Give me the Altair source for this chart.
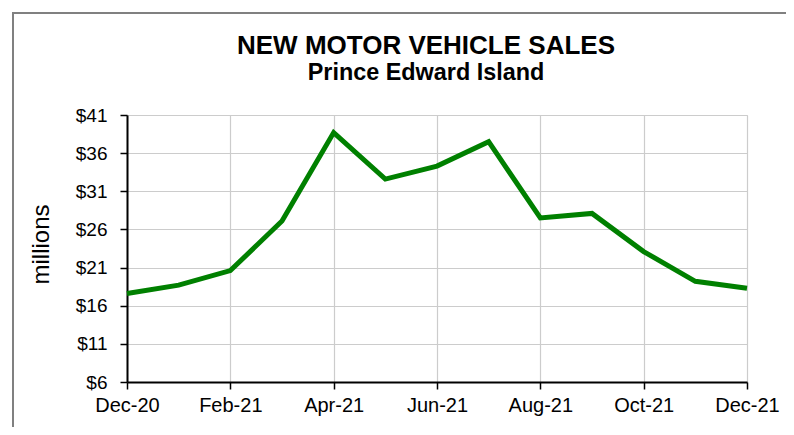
import altair as alt
import pandas as pd

title_text = "NEW MOTOR VEHICLE SALES"
subtitle_text = "Prince Edward Island"
months = ["Dec-20", "Jan-21", "Feb-21", "Mar-21", "Apr-21", "May-21", "Jun-21",
          "Jul-21", "Aug-21", "Sep-21", "Oct-21", "Nov-21", "Dec-21"]
sales = [17.6, 18.7, 20.6, 27.1, 38.7, 32.6, 34.3, 37.5, 27.5, 28.1, 23.1, 19.2, 18.3]
x_labels = ["Dec-20", "Feb-21", "Apr-21", "Jun-21", "Aug-21", "Oct-21", "Dec-21"]
y_ticks = [6, 11, 16, 21, 26, 31, 36, 41]

df = pd.DataFrame({"month": months, "sales": sales})
one = pd.DataFrame({"title": [title_text], "subtitle": [subtitle_text]})

FONT = "Liberation Sans"

line = alt.Chart(df).mark_line(color="#008000", strokeWidth=5, strokeJoin="miter").encode(
    x=alt.X("month:O", sort=months,
            scale=alt.Scale(type="point", padding=0),
            axis=alt.Axis(values=x_labels, labelAngle=0, title=None,
                          labelFont=FONT, labelFontSize=20, labelColor="black",
                          labelPadding=6, tickSize=7, tickColor="black", tickWidth=1.5,
                          domainColor="black", domainWidth=2,
                          grid=True, gridColor="#cccccc", gridWidth=1.2,
                          labelOverlap=False)),
    y=alt.Y("sales:Q", scale=alt.Scale(domain=[6, 41], nice=False, zero=False),
            axis=alt.Axis(values=y_ticks, labelExpr="'$' + datum.value",
                          title="millions", titleFont=FONT, titleFontSize=24,
                          titleFontWeight="normal", titleColor="black", titlePadding=22,
                          titleY=129,
                          labelFont=FONT, labelFontSize=19, labelColor="black",
                          labelPadding=13, tickSize=7, tickColor="black", tickWidth=1.5,
                          domainColor="black", domainWidth=2,
                          grid=True, gridColor="#cccccc", gridWidth=1.2)),
)

title_mark = alt.Chart(one).mark_text(font=FONT, fontSize=26, fontWeight="bold",
                                      color="black", align="center", baseline="alphabetic").encode(
    text="title:N", x=alt.value(299), y=alt.value(-61))
subtitle_mark = alt.Chart(one).mark_text(font=FONT, fontSize=23.4, fontWeight="bold",
                                         color="black", align="center", baseline="alphabetic").encode(
    text="subtitle:N", x=alt.value(299), y=alt.value(-35))

border_left = alt.Chart(one).mark_rule(color="#808080", strokeWidth=2).encode(
    x=alt.value(-114), y=alt.value(-102), y2=alt.value(330))
border_top = alt.Chart(one).mark_rule(color="#808080", strokeWidth=2).encode(
    x=alt.value(-115), x2=alt.value(700), y=alt.value(-102))

chart = alt.layer(border_left, border_top, title_mark, subtitle_mark, line).properties(
    width=620, height=267,
    autosize=alt.AutoSizeParams(type="none"),
    padding={"left": 119, "top": 107, "right": 39, "bottom": 45},
).configure_view(stroke="#808080", strokeWidth=2.5).configure(background="white")

chart.save("out.html", embed_options={"renderer": "svg", "actions": False})
